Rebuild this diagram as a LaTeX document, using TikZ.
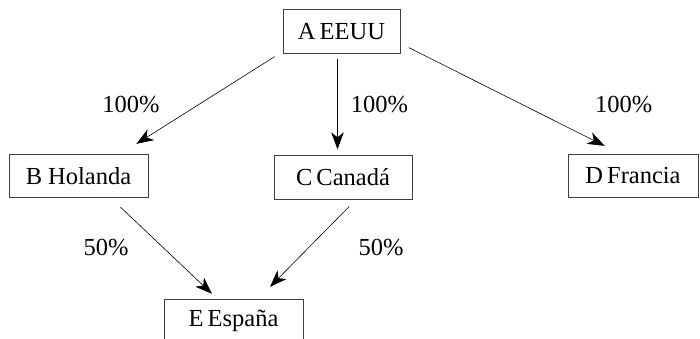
\documentclass[tikz,border=0pt]{standalone}
\usepackage{fontspec}
\setmainfont{Liberation Serif}
\usetikzlibrary{arrows.meta,calc}
\begin{document}
\begin{tikzpicture}[x=1pt,y=-1pt,
  country/.style={draw=black!75,line width=0.8pt,inner sep=0pt,minimum height=43.5pt,font=\fontsize{24.5}{28}\selectfont},
  pct/.style={inner sep=0pt,font=\fontsize{24.5}{28}\selectfont},
  conn/.style={line width=0.6pt,-{Stealth[length=17pt,width=12.5pt,inset=5pt]}}]
\useasboundingbox (0,0) rectangle (700,338);
\node[country,minimum width=117pt] (A) at (341.5,31.5) {A\,EEUU};
\node[country,minimum width=139pt] (B) at (78.5,176) {B Holanda};
\node[country,minimum width=138pt] (C) at (343,177.5) {C\,Canadá};
\node[country,minimum width=130pt] (D) at (633,176) {D\,Francia};
\node[country,minimum width=139pt] (E) at (233.5,321) {E\,España};
\node[pct] (l1) at (131,105) {100\%};
\node[pct] (l2) at (379.5,105) {100\%};
\node[pct] (l3) at (623.6,105) {100\%};
\node[pct] (l4) at (106,248) {50\%};
\node[pct] (l5) at (381,248) {50\%};
\draw[conn] ($(A.south west)+(-8,3)$) -- ($(B.north east)+(-12,-10)$);
\draw[conn] ($(A.south)+(-4,5)$) -- ($(C.north)+(-5.5,-6)$);
\draw[conn] ($(A.south east)+(8.5,-6)$) -- ($(D.north west)+(37,-8)$);
\draw[conn] ($(B.south)+(42,9)$) -- ($(E.north)+(-21.5,-5)$);
\draw[conn] ($(C.south)+(6,7)$) -- ($(E.north)+(36.5,-12)$);
\end{tikzpicture}
\end{document}
